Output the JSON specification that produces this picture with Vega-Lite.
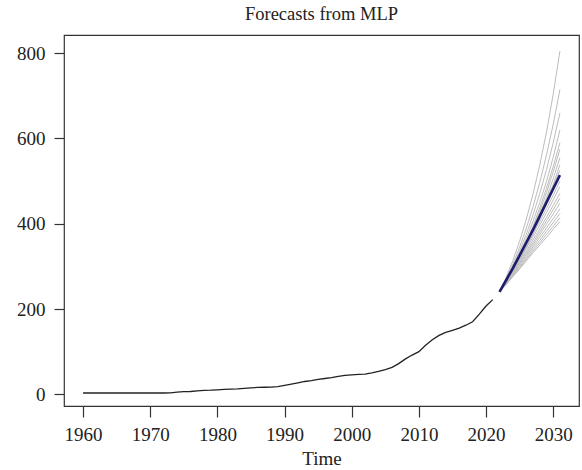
{
  "$schema": "https://vega.github.io/schema/vega-lite/v6.json",
  "width": 515,
  "height": 371,
  "autosize": {"type": "none"},
  "padding": {"left": 64, "top": 35, "right": 3, "bottom": 64},
  "background": "white",
  "title": {"text": "Forecasts from MLP", "fontSize": 18.5, "font": "Liberation Serif", "fontWeight": "normal", "color": "#222", "offset": 12, "anchor": "middle"},
  "config": {
    "view": {"stroke": "#333", "strokeWidth": 1.2},
    "axis": {"grid": false, "domain": false, "labelFont": "Liberation Serif", "titleFont": "Liberation Serif", "labelFontSize": 19, "titleFontSize": 19, "titleFontWeight": "normal", "labelColor": "#222", "titleColor": "#222", "tickColor": "#333", "tickWidth": 1.2}
  },
  "datasets": {
    "hist": [
      {"year": 1960, "value": 3}, {"year": 1961, "value": 3}, {"year": 1962, "value": 3}, {"year": 1963, "value": 3},
      {"year": 1964, "value": 3}, {"year": 1965, "value": 3}, {"year": 1966, "value": 3}, {"year": 1967, "value": 3},
      {"year": 1968, "value": 3}, {"year": 1969, "value": 3}, {"year": 1970, "value": 3}, {"year": 1971, "value": 3},
      {"year": 1972, "value": 3}, {"year": 1973, "value": 3.5}, {"year": 1974, "value": 5}, {"year": 1975, "value": 6},
      {"year": 1976, "value": 6.5}, {"year": 1977, "value": 8}, {"year": 1978, "value": 9}, {"year": 1979, "value": 9.5},
      {"year": 1980, "value": 10.5}, {"year": 1981, "value": 11.5}, {"year": 1982, "value": 12}, {"year": 1983, "value": 12.5},
      {"year": 1984, "value": 14}, {"year": 1985, "value": 15}, {"year": 1986, "value": 16}, {"year": 1987, "value": 16.5},
      {"year": 1988, "value": 17}, {"year": 1989, "value": 18}, {"year": 1990, "value": 21}, {"year": 1991, "value": 24},
      {"year": 1992, "value": 27}, {"year": 1993, "value": 30}, {"year": 1994, "value": 32}, {"year": 1995, "value": 35},
      {"year": 1996, "value": 37}, {"year": 1997, "value": 39}, {"year": 1998, "value": 42}, {"year": 1999, "value": 44.5},
      {"year": 2000, "value": 45.5}, {"year": 2001, "value": 46.5}, {"year": 2002, "value": 47.5}, {"year": 2003, "value": 50},
      {"year": 2004, "value": 53.5}, {"year": 2005, "value": 58}, {"year": 2006, "value": 63}, {"year": 2007, "value": 72},
      {"year": 2008, "value": 83}, {"year": 2009, "value": 92}, {"year": 2010, "value": 100}, {"year": 2011, "value": 115},
      {"year": 2012, "value": 128}, {"year": 2013, "value": 138}, {"year": 2014, "value": 145}, {"year": 2015, "value": 150},
      {"year": 2016, "value": 155}, {"year": 2017, "value": 162}, {"year": 2018, "value": 170}, {"year": 2019, "value": 188},
      {"year": 2020, "value": 207}, {"year": 2021, "value": 222}
    ],
    "mean": [
      {"year": 2022, "value": 240}, {"year": 2023, "value": 268}, {"year": 2024, "value": 296}, {"year": 2025, "value": 326},
      {"year": 2026, "value": 356}, {"year": 2027, "value": 386}, {"year": 2028, "value": 418}, {"year": 2029, "value": 450},
      {"year": 2030, "value": 482}, {"year": 2031, "value": 514}
    ],
    "paths": [
      {"p": 1, "year": 2022, "value": 240}, {"p": 1, "year": 2023, "value": 275}, {"p": 1, "year": 2024, "value": 314}, {"p": 1, "year": 2025, "value": 359}, {"p": 1, "year": 2026, "value": 411}, {"p": 1, "year": 2027, "value": 470}, {"p": 1, "year": 2028, "value": 538}, {"p": 1, "year": 2029, "value": 615}, {"p": 1, "year": 2030, "value": 704}, {"p": 1, "year": 2031, "value": 805},
      {"p": 2, "year": 2022, "value": 240}, {"p": 2, "year": 2023, "value": 271}, {"p": 2, "year": 2024, "value": 306}, {"p": 2, "year": 2025, "value": 345}, {"p": 2, "year": 2026, "value": 390}, {"p": 2, "year": 2027, "value": 440}, {"p": 2, "year": 2028, "value": 497}, {"p": 2, "year": 2029, "value": 561}, {"p": 2, "year": 2030, "value": 633}, {"p": 2, "year": 2031, "value": 715},
      {"p": 3, "year": 2022, "value": 240}, {"p": 3, "year": 2023, "value": 269}, {"p": 3, "year": 2024, "value": 301}, {"p": 3, "year": 2025, "value": 336}, {"p": 3, "year": 2026, "value": 376}, {"p": 3, "year": 2027, "value": 421}, {"p": 3, "year": 2028, "value": 471}, {"p": 3, "year": 2029, "value": 527}, {"p": 3, "year": 2030, "value": 590}, {"p": 3, "year": 2031, "value": 660},
      {"p": 4, "year": 2022, "value": 240}, {"p": 4, "year": 2023, "value": 265}, {"p": 4, "year": 2024, "value": 293}, {"p": 4, "year": 2025, "value": 324}, {"p": 4, "year": 2026, "value": 358}, {"p": 4, "year": 2027, "value": 395}, {"p": 4, "year": 2028, "value": 437}, {"p": 4, "year": 2029, "value": 483}, {"p": 4, "year": 2030, "value": 534}, {"p": 4, "year": 2031, "value": 590},
      {"p": 5, "year": 2022, "value": 240}, {"p": 5, "year": 2023, "value": 264}, {"p": 5, "year": 2024, "value": 291}, {"p": 5, "year": 2025, "value": 321}, {"p": 5, "year": 2026, "value": 354}, {"p": 5, "year": 2027, "value": 390}, {"p": 5, "year": 2028, "value": 429}, {"p": 5, "year": 2029, "value": 473}, {"p": 5, "year": 2030, "value": 522}, {"p": 5, "year": 2031, "value": 575},
      {"p": 6, "year": 2022, "value": 240}, {"p": 6, "year": 2023, "value": 263}, {"p": 6, "year": 2024, "value": 289}, {"p": 6, "year": 2025, "value": 317}, {"p": 6, "year": 2026, "value": 348}, {"p": 6, "year": 2027, "value": 382}, {"p": 6, "year": 2028, "value": 420}, {"p": 6, "year": 2029, "value": 461}, {"p": 6, "year": 2030, "value": 506}, {"p": 6, "year": 2031, "value": 555},
      {"p": 7, "year": 2022, "value": 240}, {"p": 7, "year": 2023, "value": 262}, {"p": 7, "year": 2024, "value": 287}, {"p": 7, "year": 2025, "value": 314}, {"p": 7, "year": 2026, "value": 344}, {"p": 7, "year": 2027, "value": 376}, {"p": 7, "year": 2028, "value": 411}, {"p": 7, "year": 2029, "value": 450}, {"p": 7, "year": 2030, "value": 492}, {"p": 7, "year": 2031, "value": 538},
      {"p": 8, "year": 2022, "value": 240}, {"p": 8, "year": 2023, "value": 268}, {"p": 8, "year": 2024, "value": 297}, {"p": 8, "year": 2025, "value": 328}, {"p": 8, "year": 2026, "value": 359}, {"p": 8, "year": 2027, "value": 391}, {"p": 8, "year": 2028, "value": 424}, {"p": 8, "year": 2029, "value": 458}, {"p": 8, "year": 2030, "value": 491}, {"p": 8, "year": 2031, "value": 525},
      {"p": 9, "year": 2022, "value": 240}, {"p": 9, "year": 2023, "value": 266}, {"p": 9, "year": 2024, "value": 292}, {"p": 9, "year": 2025, "value": 319}, {"p": 9, "year": 2026, "value": 347}, {"p": 9, "year": 2027, "value": 376}, {"p": 9, "year": 2028, "value": 405}, {"p": 9, "year": 2029, "value": 436}, {"p": 9, "year": 2030, "value": 467}, {"p": 9, "year": 2031, "value": 500},
      {"p": 10, "year": 2022, "value": 240}, {"p": 10, "year": 2023, "value": 265}, {"p": 10, "year": 2024, "value": 290}, {"p": 10, "year": 2025, "value": 316}, {"p": 10, "year": 2026, "value": 342}, {"p": 10, "year": 2027, "value": 369}, {"p": 10, "year": 2028, "value": 397}, {"p": 10, "year": 2029, "value": 426}, {"p": 10, "year": 2030, "value": 456}, {"p": 10, "year": 2031, "value": 487},
      {"p": 11, "year": 2022, "value": 240}, {"p": 11, "year": 2023, "value": 263}, {"p": 11, "year": 2024, "value": 287}, {"p": 11, "year": 2025, "value": 311}, {"p": 11, "year": 2026, "value": 336}, {"p": 11, "year": 2027, "value": 362}, {"p": 11, "year": 2028, "value": 388}, {"p": 11, "year": 2029, "value": 415}, {"p": 11, "year": 2030, "value": 443}, {"p": 11, "year": 2031, "value": 471},
      {"p": 12, "year": 2022, "value": 240}, {"p": 12, "year": 2023, "value": 262}, {"p": 12, "year": 2024, "value": 285}, {"p": 12, "year": 2025, "value": 308}, {"p": 12, "year": 2026, "value": 332}, {"p": 12, "year": 2027, "value": 356}, {"p": 12, "year": 2028, "value": 381}, {"p": 12, "year": 2029, "value": 407}, {"p": 12, "year": 2030, "value": 433}, {"p": 12, "year": 2031, "value": 460},
      {"p": 13, "year": 2022, "value": 240}, {"p": 13, "year": 2023, "value": 261}, {"p": 13, "year": 2024, "value": 283}, {"p": 13, "year": 2025, "value": 305}, {"p": 13, "year": 2026, "value": 328}, {"p": 13, "year": 2027, "value": 351}, {"p": 13, "year": 2028, "value": 375}, {"p": 13, "year": 2029, "value": 399}, {"p": 13, "year": 2030, "value": 423}, {"p": 13, "year": 2031, "value": 448},
      {"p": 14, "year": 2022, "value": 240}, {"p": 14, "year": 2023, "value": 260}, {"p": 14, "year": 2024, "value": 281}, {"p": 14, "year": 2025, "value": 302}, {"p": 14, "year": 2026, "value": 324}, {"p": 14, "year": 2027, "value": 346}, {"p": 14, "year": 2028, "value": 368}, {"p": 14, "year": 2029, "value": 390}, {"p": 14, "year": 2030, "value": 412}, {"p": 14, "year": 2031, "value": 435},
      {"p": 15, "year": 2022, "value": 240}, {"p": 15, "year": 2023, "value": 259}, {"p": 15, "year": 2024, "value": 279}, {"p": 15, "year": 2025, "value": 299}, {"p": 15, "year": 2026, "value": 320}, {"p": 15, "year": 2027, "value": 341}, {"p": 15, "year": 2028, "value": 361}, {"p": 15, "year": 2029, "value": 382}, {"p": 15, "year": 2030, "value": 403}, {"p": 15, "year": 2031, "value": 424},
      {"p": 16, "year": 2022, "value": 240}, {"p": 16, "year": 2023, "value": 258}, {"p": 16, "year": 2024, "value": 277}, {"p": 16, "year": 2025, "value": 296}, {"p": 16, "year": 2026, "value": 316}, {"p": 16, "year": 2027, "value": 336}, {"p": 16, "year": 2028, "value": 355}, {"p": 16, "year": 2029, "value": 375}, {"p": 16, "year": 2030, "value": 394}, {"p": 16, "year": 2031, "value": 414},
      {"p": 17, "year": 2022, "value": 240}, {"p": 17, "year": 2023, "value": 257}, {"p": 17, "year": 2024, "value": 276}, {"p": 17, "year": 2025, "value": 294}, {"p": 17, "year": 2026, "value": 313}, {"p": 17, "year": 2027, "value": 332}, {"p": 17, "year": 2028, "value": 350}, {"p": 17, "year": 2029, "value": 368}, {"p": 17, "year": 2030, "value": 387}, {"p": 17, "year": 2031, "value": 405},
      {"p": 18, "year": 2022, "value": 240}, {"p": 18, "year": 2023, "value": 267}, {"p": 18, "year": 2024, "value": 297}, {"p": 18, "year": 2025, "value": 330}, {"p": 18, "year": 2026, "value": 366}, {"p": 18, "year": 2027, "value": 406}, {"p": 18, "year": 2028, "value": 450}, {"p": 18, "year": 2029, "value": 499}, {"p": 18, "year": 2030, "value": 556}, {"p": 18, "year": 2031, "value": 620}
    ]
  },
  "encoding": {
    "x": {"field": "year", "type": "quantitative", "title": "Time",
      "scale": {"domain": [1957.16, 2033.84], "nice": false, "zero": false},
      "axis": {"values": [1960, 1970, 1980, 1990, 2000, 2010, 2020, 2030], "format": "d", "tickSize": 11, "labelPadding": 8, "titlePadding": 5}},
    "y": {"field": "value", "type": "quantitative", "title": null,
      "scale": {"domain": [-27.5, 842.7], "nice": false, "zero": false},
      "axis": {"values": [0, 200, 400, 600, 800], "tickSize": 10, "labelPadding": 9}}
  },
  "layer": [
    {"data": {"name": "paths"}, "mark": {"type": "line", "color": "#bdbdbd", "strokeWidth": 1}, "encoding": {"detail": {"field": "p", "type": "nominal"}}},
    {"data": {"name": "hist"}, "mark": {"type": "line", "color": "#222", "strokeWidth": 1.3}},
    {"data": {"name": "mean"}, "mark": {"type": "line", "color": "#1c1c6e", "strokeWidth": 2.6}}
  ]
}
